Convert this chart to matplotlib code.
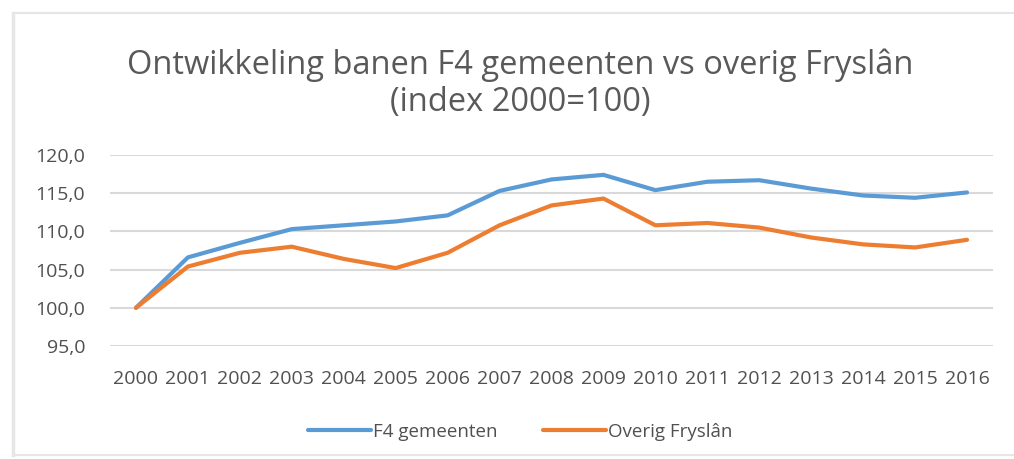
import numpy as np
import matplotlib
matplotlib.use('Agg')
import matplotlib.pyplot as plt
from matplotlib.ticker import FuncFormatter

years = [str(y) for y in range(2000, 2017)]
f4_gemeenten = [100.0, 106.6, 108.5, 110.3, 110.8, 111.3, 112.1, 115.3, 116.8, 117.4,
                115.4, 116.5, 116.7, 115.6, 114.7, 114.4, 115.1]
overig_fryslan = [100.0, 105.4, 107.2, 108.0, 106.4, 105.2, 107.2, 110.8, 113.4, 114.3,
                  110.8, 111.1, 110.5, 109.2, 108.3, 107.9, 108.9]
y_ticks = [95, 100, 105, 110, 115, 120]

plt.rcParams['font.family'] = ['Open Sans', 'DejaVu Sans']

fig = plt.figure(figsize=(10.14, 4.59), dpi=100)
W, H = 1014, 459
# plot area: x 110..993, y 155..346 (pixels from top)
ax = fig.add_axes([110 / W, 1 - 346 / H, (993 - 110) / W, (346 - 155) / H])

x = np.arange(len(years))
ax.plot(x, f4_gemeenten, color='#5b9bd5', lw=3, label='F4 gemeenten', solid_capstyle='round')
ax.plot(x, overig_fryslan, color='#ed7d31', lw=3, label='Overig Fryslân', solid_capstyle='round')

ax.set_xlim(-0.5, len(years) - 0.5)
ax.set_ylim(95, 120)
ax.set_yticks(y_ticks)
ax.yaxis.set_major_formatter(FuncFormatter(lambda v, p: f'{v:.1f}'.replace('.', ',')))
ax.set_xticks(x)
ax.set_xticklabels(years)
ax.grid(axis='y', color='#d9d9d9', lw=1.5)
ax.set_axisbelow(True)
for s in ax.spines.values():
    s.set_visible(False)
ax.tick_params(length=0, colors='#505050', labelsize=14)
ax.tick_params(axis='x', pad=17)
ax.tick_params(axis='y', pad=18)

fig.text(0.513, 1 - 65 / H, 'Ontwikkeling banen F4 gemeenten vs overig Fryslân',
         ha='center', va='center', fontsize=23.5, color='#595959')
fig.text(0.513, 1 - 102 / H, '(index 2000=100)',
         ha='center', va='center', fontsize=23.5, color='#595959')

fig.legend(loc='center', bbox_to_anchor=(0.513, 1 - 432 / H), ncol=2, frameon=False,
           fontsize=13.5, labelcolor='#505050', handlelength=3.4, handletextpad=0.1,
           columnspacing=2.4)

# light chart border
bc = '#e6e6e6'
fig.add_artist(plt.Line2D([13 / W, 13 / W], [1 - 13 / H, 1 - 455 / H], color=bc, lw=2.5))
fig.add_artist(plt.Line2D([13 / W, 1], [1 - 13 / H, 1 - 13 / H], color=bc, lw=1.5))
fig.add_artist(plt.Line2D([13 / W, 1], [1 - 455 / H, 1 - 455 / H], color=bc, lw=1.5))

fig.savefig('out.png', dpi=100, facecolor='white')
